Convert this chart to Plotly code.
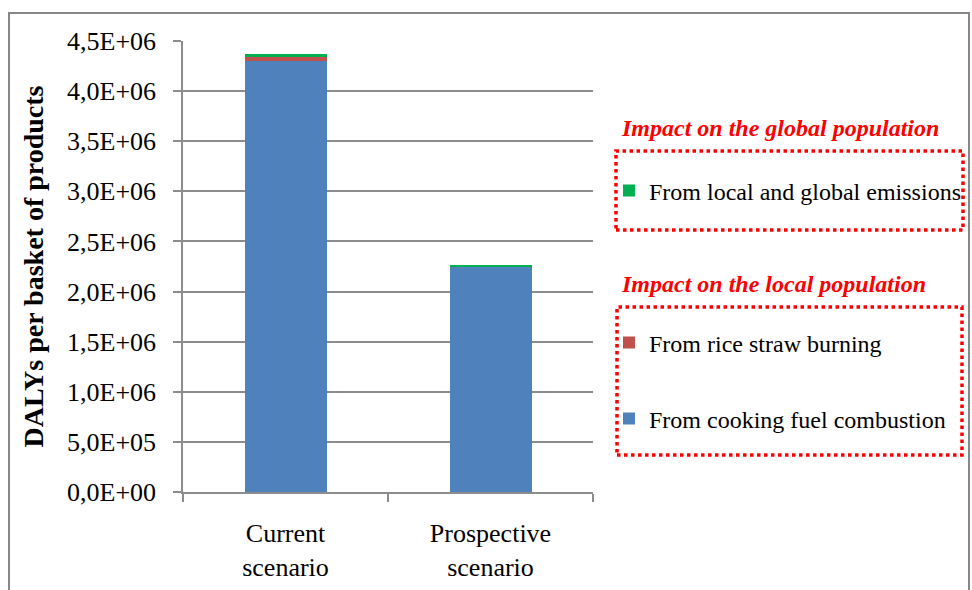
import plotly.graph_objects as go

# Scenario categories (two-line tick labels)
scenarios = ["Current<br>scenario", "Prospective<br>scenario"]

# DALYs per basket of products, by source
cooking_fuel = [4.300e6, 2.245e6]
rice_straw = [4.4e4, 0.0]
local_global = [2.4e4, 1.6e4]

# Y-axis ticks (comma decimal separator)
y_tickvals = [0, 5e5, 1e6, 1.5e6, 2e6, 2.5e6, 3e6, 3.5e6, 4e6, 4.5e6]
y_ticktext = ["0,0E+00", "5,0E+05", "1,0E+06", "1,5E+06", "2,0E+06",
              "2,5E+06", "3,0E+06", "3,5E+06", "4,0E+06", "4,5E+06"]

SERIF = "Liberation Serif"
GRID = "#8c8c8c"
W, H = 972, 590

fig = go.Figure()
fig.add_trace(go.Bar(x=scenarios, y=cooking_fuel, name="From cooking fuel combustion",
                     marker=dict(color="#4F81BD", line=dict(width=0)), legend="legend3"))
fig.add_trace(go.Bar(x=scenarios, y=rice_straw, name="From rice straw burning",
                     marker=dict(color="#C0504D", line=dict(width=0)), legend="legend2"))
fig.add_trace(go.Bar(x=scenarios, y=local_global, name="From local and global emissions",
                     marker=dict(color="#00B050", line=dict(width=0)), legend="legend"))

def legend_at(px, py):
    return dict(x=px / W, y=1 - py / H, xref="container", yref="container",
                xanchor="left", yanchor="middle", bgcolor="rgba(0,0,0,0)",
                borderwidth=0, font=dict(family=SERIF, size=24, color="black"),
                itemclick=False, itemdoubleclick=False, visible=True)

# Outer chart frame and the two dotted group boxes
def px_x(v):
    return (v - 183) / 410

def px_y(v):
    return (492 - v) / 451

shapes = [
    dict(type="rect", xref="paper", yref="paper",
         x0=px_x(9), x1=px_x(969), y0=px_y(640), y1=px_y(13),
         line=dict(color="#878787", width=2)),
    dict(type="rect", xref="paper", yref="paper",
         x0=px_x(616), x1=px_x(963), y0=px_y(230), y1=px_y(151),
         line=dict(color="#FF0000", width=3.5, dash="dot")),
    dict(type="rect", xref="paper", yref="paper",
         x0=px_x(617), x1=px_x(962), y0=px_y(455), y1=px_y(307),
         line=dict(color="#FF0000", width=3.5, dash="dot")),
]

title_font = dict(family=SERIF, size=24, color="#FF0000")
annotations = [
    dict(text="<b><i>Impact on the global population</i></b>", xref="paper", yref="paper",
         x=px_x(619), y=px_y(128), xanchor="left", yanchor="middle",
         showarrow=False, font=title_font),
    dict(text="<b><i>Impact on the local population</i></b>", xref="paper", yref="paper",
         x=px_x(619), y=px_y(284), xanchor="left", yanchor="middle",
         showarrow=False, font=title_font),
]

fig.update_layout(
    width=W, height=H,
    showlegend=True,
    barmode="stack", bargap=0.6,
    paper_bgcolor="white", plot_bgcolor="white",
    margin=dict(l=183, r=W - 593, t=41, b=H - 492, autoexpand=False),
    font=dict(family=SERIF, size=24, color="black"),
    legend=legend_at(609, 191),
    legend2=legend_at(609, 343),
    legend3=legend_at(609, 419),
    shapes=shapes,
    annotations=annotations,
)

fig.update_xaxes(
    type="category", tickson="boundaries", ticks="outside", ticklen=8,
    tickcolor=GRID, tickwidth=1.5, showline=True, linecolor=GRID, linewidth=1.5,
    showgrid=False, ticklabelstandoff=17, automargin=False,
    tickfont=dict(family=SERIF, size=26, color="black"),
)
fig.update_yaxes(
    range=[0, 4.5e6], tickvals=y_tickvals, ticktext=y_ticktext,
    ticks="outside", ticklen=8, tickcolor=GRID, tickwidth=1.5,
    showline=True, linecolor=GRID, linewidth=1.5,
    showgrid=True, gridcolor=GRID, gridwidth=1.5, zeroline=False,
    ticklabelstandoff=12,
    tickfont=dict(family=SERIF, size=26, color="black"),
    title=dict(text="<b>DALYs per basket of products</b>", standoff=15,
               font=dict(family=SERIF, size=28, color="black")),
)

fig.write_html("out.html")
